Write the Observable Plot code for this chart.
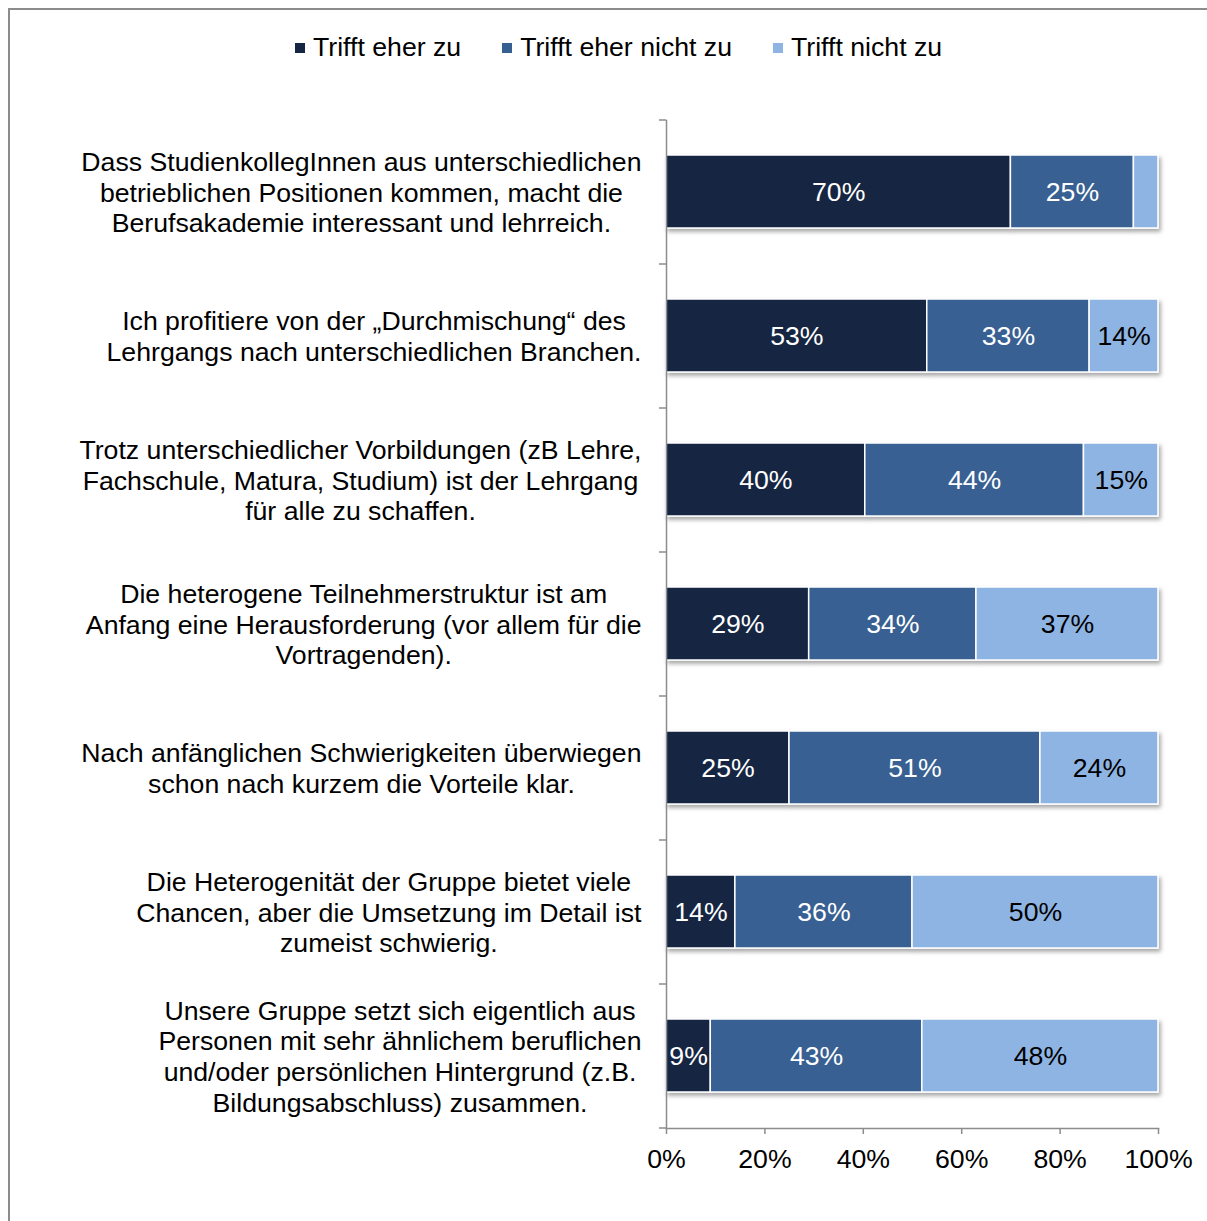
<!DOCTYPE html>
<html>
<head>
<meta charset="utf-8">
<script src="https://cdn.jsdelivr.net/npm/d3@7"></script>
<script src="https://cdn.jsdelivr.net/npm/@observablehq/plot@0.6"></script>
<style>
  html, body { margin: 0; padding: 0; background: #fff; }
  body { font-family: "Liberation Sans", Arial, sans-serif; }
  #wrap { position: relative; width: 1207px; height: 1221px; overflow: hidden; }
  #border { position: absolute; left: 8px; top: 8px; width: 1300px; height: 1300px; border: 2px solid #8c8c8c; box-sizing: border-box; }
  #legend { position: absolute; left: 295px; top: 32px; display: flex; align-items: center; font-size: 26.67px; line-height: 31px; color: #000; white-space: nowrap; }
  .item { display: flex; align-items: center; margin-right: 41px; }
  .sw { width: 10px; height: 10px; margin-right: 8px; }
  #chart { position: absolute; left: 0; top: 80px; }
</style>
</head>
<body>
<div id="wrap">
  <div id="border"></div>
  <div id="legend"></div>
  <div id="chart"></div>
</div>
<script>
const categories = [
  "Dass StudienkollegInnen aus unterschiedlichen\nbetrieblichen Positionen kommen, macht die\nBerufsakademie interessant und lehrreich.",
  "Ich profitiere von der „Durchmischung“ des\nLehrgangs nach unterschiedlichen Branchen.",
  "Trotz unterschiedlicher Vorbildungen (zB Lehre,\nFachschule, Matura, Studium) ist der Lehrgang\nfür alle zu schaffen.",
  "Die heterogene Teilnehmerstruktur ist am\nAnfang eine Herausforderung (vor allem für die\nVortragenden).",
  "Nach anfänglichen Schwierigkeiten überwiegen\nschon nach kurzem die Vorteile klar.",
  "Die Heterogenität der Gruppe bietet viele\nChancen, aber die Umsetzung im Detail ist\nzumeist schwierig.",
  "Unsere Gruppe setzt sich eigentlich aus\nPersonen mit sehr ähnlichem beruflichen\nund/oder persönlichen Hintergrund (z.B.\nBildungsabschluss) zusammen."
];
const seriesNames = ["Trifft eher zu", "Trifft eher nicht zu", "Trifft nicht zu"];
const seriesColors = ["#142642", "#376092", "#8eb4e3"];
const labelColors = ["#ffffff", "#ffffff", "#000000"];
const trifftEherZu      = [70, 53, 40, 29, 25, 14, 9];
const trifftEherNichtZu = [25, 33, 44, 34, 51, 36, 43];
const trifftNichtZu     = [5, 14, 15, 37, 24, 50, 48];
const xTicks = [0, 0.2, 0.4, 0.6, 0.8, 1];

const seriesValues = [trifftEherZu, trifftEherNichtZu, trifftNichtZu];
const data = [];
seriesNames.forEach((s, si) => {
  categories.forEach((c, ci) => {
    data.push({cat: c, series: s, value: seriesValues[si][ci], si});
  });
});

// legend
const legend = document.getElementById("legend");
seriesNames.forEach((s, i) => {
  const it = document.createElement("div");
  it.className = "item";
  const sw = document.createElement("div");
  sw.className = "sw";
  sw.style.background = seriesColors[i];
  const tx = document.createElement("span");
  tx.textContent = s;
  it.appendChild(sw); it.appendChild(tx);
  legend.appendChild(it);
});

const FONT = 26.67;
const gray = "#8c8c8c";

// measure label block widths
const ctx = document.createElement("canvas").getContext("2d");
ctx.font = FONT + "px 'Liberation Sans', Arial, sans-serif";
const blockWidth = c => Math.max(...c.split("\n").map(l => ctx.measureText(l).width));

const labelMarks = categories.map(c => Plot.text([c], {
  y: d => d,
  text: d => d,
  frameAnchor: "left",
  dx: -(25 + blockWidth(c) / 2),
  textAnchor: "middle",
  lineAnchor: "middle",
  lineHeight: 1.15,
  fontSize: FONT,
  fill: "#000"
}));

const stackOpts = {x: "value", y: "cat", z: "series", offset: "normalize", order: null};

const chart = Plot.plot({
  width: 1207,
  height: 1141,
  marginLeft: 666,
  marginRight: 49,
  marginTop: 40,
  marginBottom: 93,
  style: {fontFamily: "'Liberation Sans', Arial, sans-serif", fontSize: FONT + "px", color: "#000", background: "transparent", overflow: "visible"},
  x: {domain: [0, 1], axis: null},
  y: {domain: categories, paddingInner: 0.49, paddingOuter: 0.245, axis: null},
  color: {domain: seriesNames, range: seriesColors},
  marks: [
    Plot.barX(data, Plot.stackX({...stackOpts, fill: "series", stroke: "#fff", strokeWidth: 1.5})),
    Plot.text(data, Plot.stackX({
      ...stackOpts,
      text: d => d.value >= 6 ? d.value + "%" : null,
      fill: d => labelColors[d.si],
      fontSize: FONT
    })),
    Plot.frame({anchor: "left", stroke: gray, strokeWidth: 1.5}),
    Plot.frame({anchor: "bottom", stroke: gray, strokeWidth: 1.5}),
    Plot.axisY({ticks: categories, tickSize: 7, dy: -72, text: null, label: null, stroke: gray, strokeWidth: 1.5}),
    Plot.axisY({ticks: [categories[categories.length - 1]], tickSize: 7, dy: 72, text: null, label: null, stroke: gray, strokeWidth: 1.5}),
    Plot.axisX({ticks: xTicks, tickFormat: d3.format(".0%"), tickSize: 6, tickPadding: 15, label: null, stroke: gray, strokeWidth: 1.5, fontSize: FONT, fill: "#000"}),
    ...labelMarks
  ]
});

// drop shadow on bars
const ns = "http://www.w3.org/2000/svg";
const defs = document.createElementNS(ns, "defs");
defs.innerHTML = '<filter id="shadow" x="-5%" y="-20%" width="115%" height="160%"><feDropShadow dx="2" dy="3" stdDeviation="2" flood-color="#000" flood-opacity="0.35"/></filter>';
chart.insertBefore(defs, chart.firstChild);
const barG = chart.querySelector('g[aria-label="bar"]');
if (barG) barG.setAttribute("filter", "url(#shadow)");

document.getElementById("chart").appendChild(chart);
</script>
</body>
</html>
